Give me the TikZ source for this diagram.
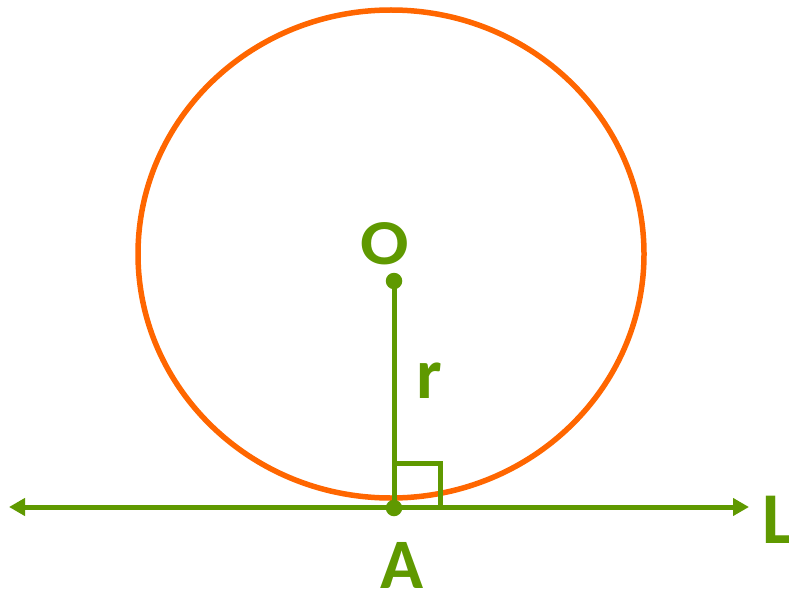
\documentclass[tikz,border=0pt]{standalone}
\usepackage{fontspec}
\setmainfont{Carlito}
\usetikzlibrary{arrows.meta}
\definecolor{gr}{RGB}{95,153,0}
\definecolor{orng}{RGB}{255,102,0}
\tikzset{
  geo/.style={draw=gr, line width=5pt},
  lbl/.style={text=gr, font=\bfseries, inner sep=0pt, anchor=base},
  pt/.style={circle, fill=gr, inner sep=0pt, minimum size=16.5pt}
}
\begin{document}
\begin{tikzpicture}[x=1pt,y=-1pt]
\useasboundingbox (0,0) rectangle (789,591);
\coordinate (C) at (391,254);
\draw[orng, line width=5.5pt] (C) ellipse [x radius=253, y radius=244];
\coordinate (Lw) at (9,507);
\coordinate (Le) at (749,507);
\draw[geo, {Triangle[length=16pt,width=17pt]}-{Triangle[length=16pt,width=17pt]}] (Lw) -- (Le);
\node[pt] (O) at (394,281) {};
\node[pt] (A) at (394,508) {};
\draw[geo] (O.center) -- (A.center);
\coordinate (S1) at (394,463.5);
\coordinate (S2) at (440,463.5);
\coordinate (S3) at (440,507);
\draw[geo, line cap=butt] (S1) -- (S2) -- (S3);
\node[lbl, font=\bfseries\fontsize{64}{64}\selectfont, xscale=1.12] (Ot) at (385,264) {O};
\node[lbl, font=\bfseries\fontsize{72}{72}\selectfont] (rt) at (429,398) {r};
\node[lbl, font=\bfseries\fontsize{71}{71}\selectfont] (At) at (402.5,588) {A};
\node[lbl, font=\bfseries\fontsize{73}{73}\selectfont, anchor=base west] (Lt) at (762,543) {L};
\end{tikzpicture}
\end{document}
